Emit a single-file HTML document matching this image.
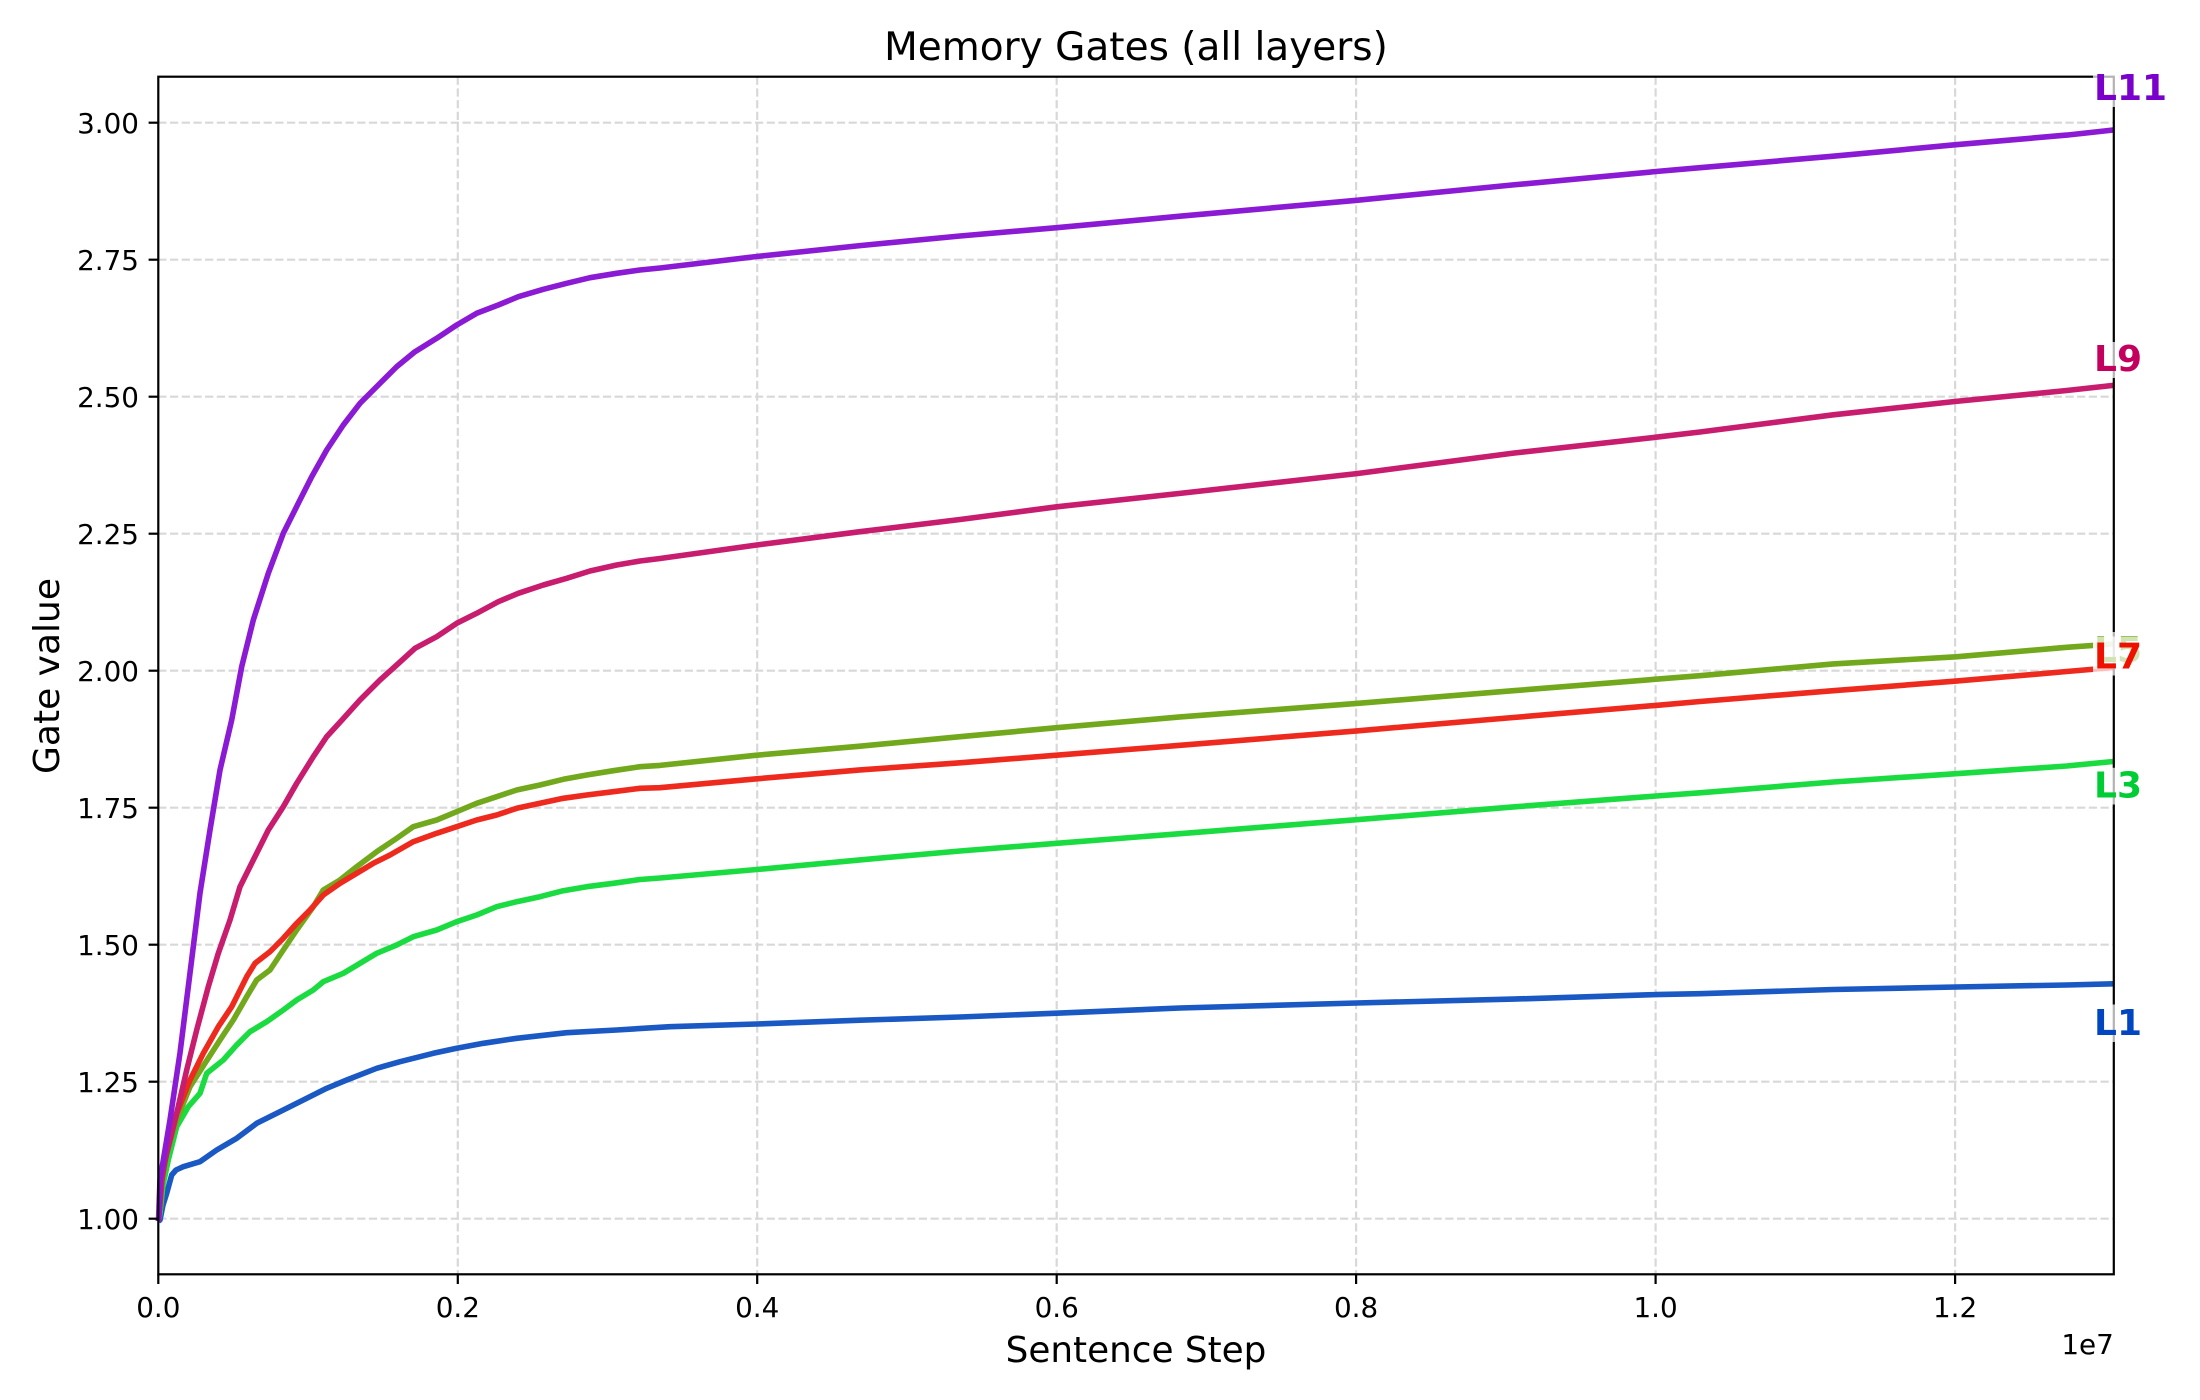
<!DOCTYPE html>
<html><head><meta charset="utf-8"><style>
html,body{margin:0;padding:0;background:#fff;}
svg{display:block;}
text{font-family:"DejaVu Sans","Liberation Sans",sans-serif;fill:#000;}
</style></head><body>
<svg width="2200" height="1400" viewBox="0 0 2200 1400" xmlns="http://www.w3.org/2000/svg">
<rect x="0" y="0" width="2200" height="1400" fill="#fff"/>
<!-- grid -->
<g stroke="#d8d8d8" stroke-width="2.2" stroke-dasharray="8.2,3.5" fill="none">
<line x1="158.3" y1="122.7" x2="2113.8" y2="122.7"/>
<line x1="158.3" y1="259.7" x2="2113.8" y2="259.7"/>
<line x1="158.3" y1="396.7" x2="2113.8" y2="396.7"/>
<line x1="158.3" y1="533.7" x2="2113.8" y2="533.7"/>
<line x1="158.3" y1="670.7" x2="2113.8" y2="670.7"/>
<line x1="158.3" y1="807.7" x2="2113.8" y2="807.7"/>
<line x1="158.3" y1="944.7" x2="2113.8" y2="944.7"/>
<line x1="158.3" y1="1081.7" x2="2113.8" y2="1081.7"/>
<line x1="158.3" y1="1218.7" x2="2113.8" y2="1218.7"/>
<line x1="457.8" y1="76.7" x2="457.8" y2="1274.3"/>
<line x1="757.2" y1="76.7" x2="757.2" y2="1274.3"/>
<line x1="1056.7" y1="76.7" x2="1056.7" y2="1274.3"/>
<line x1="1356.1" y1="76.7" x2="1356.1" y2="1274.3"/>
<line x1="1655.6" y1="76.7" x2="1655.6" y2="1274.3"/>
<line x1="1955.1" y1="76.7" x2="1955.1" y2="1274.3"/>
</g>
<!-- series -->
<g fill="none" stroke-width="5.6" stroke-linejoin="round" stroke-linecap="butt">
<polyline stroke="#1A58C4" points="158.5,1221 160,1220 163,1205 166.7,1193.3 171.7,1175 176,1170 183.3,1166.7 200,1161.7 216.7,1150 236.7,1138.3 256.7,1123.3 283.3,1110 303.3,1100 326.7,1088.3 346.7,1080 376.7,1068.3 400,1061.7 433.3,1053.3 456.7,1048.3 483.3,1043.3 516.7,1038.3 566.7,1032.7 616.7,1030 670,1026.7 756.7,1024 860,1020.2 960,1017 1056.7,1013.2 1180,1008 1356.7,1003 1513.3,999.1 1656,994.6 1700,993.7 1833.3,989.5 1956,987 2066.7,985 2113.3,983.8"/>
<polyline stroke="#1ADC40" points="158.5,1221 160,1213 163,1185 168.3,1160 176.7,1126.7 188.3,1106.7 200,1093.3 206.7,1073.3 223.3,1060 236.7,1045 250,1031.7 266.7,1021.7 283.3,1010 296.7,1000 313.3,990 323.3,981.7 343.3,973.3 360,963.3 376.7,953.3 396.7,945 413.3,936.7 436.7,930 456.7,921.7 476.7,915 496.7,906.7 516.7,901.7 540,896.7 563.3,890.7 586.7,886.7 613.3,883.3 640,879.5 660,878 756.7,869.5 860,859.9 960,851 1056.7,843.3 1180,833.7 1356.7,819.7 1513.3,806.9 1656,796 1700,792.8 1833.3,782 1956,773.7 2066.7,766 2113.3,761.5"/>
<polyline stroke="#72A81C" points="158.5,1221 162,1180 166.7,1153.3 176.7,1120 190,1086.7 205,1063.3 220,1040 233.3,1020 246.7,996.7 256.7,980 270,970 283.3,950 296.7,930 313.3,906.7 323.3,890 340,880 356.7,866.7 376.7,851.7 396.7,838.3 413.3,826.7 436.7,820 456.7,811.7 476.7,803.3 496.7,796.7 516.7,790 540,785 563.3,779.3 586.7,775 613.3,770.7 640,766.7 660,765.4 756.7,755.2 860,746.2 960,736.7 1056.7,727.7 1180,716.9 1356.7,703.4 1513.3,690.7 1656,679.2 1700,675.7 1833.3,663.9 1956,656.8 2066.7,647.3 2113.3,644"/>
<polyline stroke="#EE2A1E" points="158.5,1221 162,1180 166.7,1150 176.7,1113.3 190,1080 203.3,1053.3 218.3,1026.7 231.7,1006.7 246.7,976.7 255,963.3 270,951.7 283.3,938.3 296.7,923.3 310,910 323.3,895 340,883.3 356.7,873.3 373.3,863.3 390,855 413.3,841.7 436.7,833.3 456.7,826.7 476.7,820 496.7,815 516.7,808.3 540,803.3 563.3,798.3 586.7,795 613.3,791.7 640,788.3 660,787.7 756.7,778.8 860,769.9 960,762.8 1056.7,755.2 1180,745.3 1356.7,730.9 1513.3,717.5 1656,705.4 1700,701.5 1833.3,690.7 1956,681.1 2066.7,671.5 2113.3,667.5"/>
<polyline stroke="#C81C6E" points="158.5,1221 162,1175 166.7,1153.3 176.7,1113.3 186.7,1070 196.7,1030 208.3,986.7 218.3,953.3 230,920 240,886.7 253.3,860 268.3,830 283.3,806.7 296.7,783.3 313.3,756.7 326.7,736.7 342,720 360,700 380,680 396.7,665 415,648.3 436.7,636.7 456.7,623.3 476.7,613.3 498.3,601.7 518.3,593.3 543.3,585 566.7,578.3 590,571 616.7,565 640,561 660,558.5 756.7,545 860,531.7 960,519.5 1056.7,506.8 1180,493.4 1356.7,473.6 1513.3,453.1 1656,437.2 1700,432 1833.3,414.8 1956,401.4 2066.7,390.5 2113.3,385.4"/>
<polyline stroke="#8B1AD4" points="158.5,1221 160,1180 170,1120 180,1053 190,973 200,893 210,830 220,770 231.7,720 241.7,666.7 253.3,620 268.3,573.3 283.3,533.3 298.3,503.3 311.7,476.7 326.7,450 343.3,425 360,403.3 380,383.3 396.7,366.7 415,351.7 436.7,338.3 456.7,325 476.7,313.3 498.3,305 518.3,296.7 543.3,289.3 566.7,283.3 590,277.7 616.7,273.3 640,270 660,268 756.7,256.5 860,245.6 960,236 1056.7,227.7 1180,216.2 1356.7,200.3 1513.3,184.9 1656,171.5 1700,167.7 1833.3,156.2 1956,144.7 2066.7,135.1 2113.3,130"/>
</g>
<!-- axes frame -->
<rect x="158.3" y="76.7" width="1955.5" height="1197.6" fill="none" stroke="#000" stroke-width="2.2"/>
<!-- ticks -->
<g stroke="#000" stroke-width="2.2">
<line x1="148.6" y1="122.7" x2="158.3" y2="122.7"/>
<line x1="148.6" y1="259.7" x2="158.3" y2="259.7"/>
<line x1="148.6" y1="396.7" x2="158.3" y2="396.7"/>
<line x1="148.6" y1="533.7" x2="158.3" y2="533.7"/>
<line x1="148.6" y1="670.7" x2="158.3" y2="670.7"/>
<line x1="148.6" y1="807.7" x2="158.3" y2="807.7"/>
<line x1="148.6" y1="944.7" x2="158.3" y2="944.7"/>
<line x1="148.6" y1="1081.7" x2="158.3" y2="1081.7"/>
<line x1="148.6" y1="1218.7" x2="158.3" y2="1218.7"/>
<line x1="158.3" y1="1274.3" x2="158.3" y2="1284"/>
<line x1="457.8" y1="1274.3" x2="457.8" y2="1284"/>
<line x1="757.2" y1="1274.3" x2="757.2" y2="1284"/>
<line x1="1056.7" y1="1274.3" x2="1056.7" y2="1284"/>
<line x1="1356.1" y1="1274.3" x2="1356.1" y2="1284"/>
<line x1="1655.6" y1="1274.3" x2="1655.6" y2="1284"/>
<line x1="1955.1" y1="1274.3" x2="1955.1" y2="1284"/>
</g>
<!-- tick labels -->
<g font-size="27.8" text-anchor="end">
<text x="139" y="132.8">3.00</text>
<text x="139" y="269.8">2.75</text>
<text x="139" y="406.8">2.50</text>
<text x="139" y="543.8">2.25</text>
<text x="139" y="680.8">2.00</text>
<text x="139" y="817.8">1.75</text>
<text x="139" y="954.8">1.50</text>
<text x="139" y="1091.8">1.25</text>
<text x="139" y="1228.8">1.00</text>
</g>
<g font-size="27.8" text-anchor="middle">
<text x="158.3" y="1317">0.0</text>
<text x="457.8" y="1317">0.2</text>
<text x="757.2" y="1317">0.4</text>
<text x="1056.7" y="1317">0.6</text>
<text x="1356.1" y="1317">0.8</text>
<text x="1655.6" y="1317">1.0</text>
<text x="1955.1" y="1317">1.2</text>
</g>
<text x="2113.8" y="1354" font-size="27.8" text-anchor="end">1e7</text>
<!-- axis labels and title -->
<text x="1136" y="1362" font-size="35.8" text-anchor="middle">Sentence Step</text>
<text transform="translate(59,676) rotate(-90)" font-size="36" text-anchor="middle">Gate value</text>
<text x="1136" y="60" font-size="39" text-anchor="middle">Memory Gates (all layers)</text>
<!-- end labels -->
<g font-size="36" font-weight="bold">
<rect x="2093" y="1004.5" width="50" height="37.5" fill="#fff" fill-opacity="0.7"/>
<text x="2094" y="1035" style="fill:#0046C0">L1</text>
<rect x="2093" y="767.8" width="50" height="36.7" fill="#fff" fill-opacity="0.7"/>
<text x="2094" y="797.5" style="fill:#00CC33">L3</text>
<rect x="2093" y="632" width="50" height="37" fill="#fff" fill-opacity="0.7"/>
<text x="2094" y="662" style="fill:#66A000">L5</text>
<rect x="2093" y="636.5" width="50" height="39" fill="#fff" fill-opacity="0.7"/>
<text x="2094" y="668.5" style="fill:#EE1100">L7</text>
<rect x="2093" y="342" width="50" height="36" fill="#fff" fill-opacity="0.7"/>
<text x="2094" y="371" style="fill:#C4005E">L9</text>
<rect x="2093" y="71" width="76" height="36" fill="#fff" fill-opacity="0.7"/>
<text x="2094" y="100" style="fill:#7A00CC">L11</text>
</g>
</svg>
</body></html>
